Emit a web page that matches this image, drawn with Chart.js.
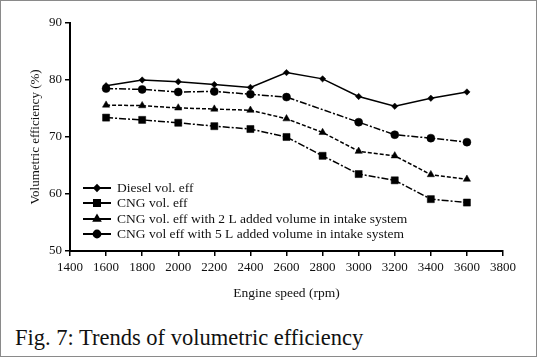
<!DOCTYPE html>
<html><head><meta charset="utf-8">
<script src="https://cdn.jsdelivr.net/npm/chart.js@4.4.1/dist/chart.umd.min.js"></script>
<style>
html,body{margin:0;padding:0;background:#fff;}
#wrap{position:relative;width:537px;height:357px;box-sizing:border-box;border:1px solid #8a8a8a;background:#fff;overflow:hidden;}
#cv{position:absolute;left:0;top:0;}
#cap{position:absolute;left:14px;top:324px;font-family:"Liberation Serif",serif;font-size:22.5px;color:#111;white-space:nowrap;}
</style></head>
<body><div id="wrap"><canvas id="cv" width="535" height="305"></canvas><div id="cap">Fig. 7: Trends of volumetric efficiency</div></div>
<script>
const speeds = [1600,1800,2000,2200,2400,2600,2800,3000,3200,3400,3600];
const dieselVals = [79.0,80.0,79.7,79.2,78.7,81.3,80.2,77.1,75.4,76.8,77.9];
const cngVals = [73.4,73.0,72.5,71.9,71.4,70.0,66.7,63.5,62.4,59.1,58.5];
const cng2LVals = [75.6,75.5,75.1,74.9,74.7,73.2,70.8,67.5,66.7,63.4,62.6];
const cng5LVals = [78.5,78.35,77.9,78.0,77.5,77.0,74.8,72.6,70.4,69.8,69.1];
const labels = ["Diesel vol. eff","CNG vol. eff","CNG vol. eff with 2 L added volume in intake system","CNG vol eff with 5 L added volume in intake system"];
const xTitle = "Engine speed (rpm)";
const yTitle = "Volumetric efficiency (%)";

const serif = '"Liberation Serif", "DejaVu Serif", serif';
const pts = v => speeds.map((s,i)=>({x:s,y:v[i]}));
const mk = (label, data, style, radius, dash) => ({
  label, data: pts(data), borderColor:'#000', backgroundColor:'#000', borderWidth:1.5,
  pointStyle:style, pointRadius:radius, pointBorderWidth:0.5, borderDash:dash, tension:0, fill:false
});
const r5 = speeds.map((s,i)=> i===6 ? 0 : 4);
const datasets = [
  mk(labels[0], dieselVals, 'rectRot', 3.2, []),
  mk(labels[1], cngVals, 'rect', 5, [7,2,2,2]),
  mk(labels[2], cng2LVals, 'triangle', 4.2, [4,2]),
  mk(labels[3], cng5LVals, 'circle', r5, [7,2,2,2])
];
const legendR = [3.2,5,4.2,4];
const legendPlugin = {
  id:'inLegend',
  afterDraw(chart){
    const ctx = chart.ctx;
    ctx.save();
    ctx.font = '13.5px ' + serif;
    ctx.textBaseline = 'middle';
    const x0 = 82, x1 = 110, ys = [187,202,218,233];
    chart.data.datasets.forEach((ds,i)=>{
      const y = ys[i];
      ctx.strokeStyle = '#000'; ctx.lineWidth = 2; ctx.setLineDash([]);
      ctx.beginPath(); ctx.moveTo(x0,y); ctx.lineTo(x1,y); ctx.stroke();
      ctx.fillStyle = '#000';
      Chart.helpers.drawPoint(ctx, {pointStyle:ds.pointStyle, radius:legendR[i]*0.85, rotation:0, borderWidth:0.5}, (x0+x1)/2, y);
      ctx.fillStyle = '#111';
      ctx.fillText(ds.label, 116, y+0.5);
    });
    ctx.restore();
  }
};
new Chart(document.getElementById('cv'), {
  type:'line',
  data:{datasets},
  options:{
    responsive:false, animation:false, devicePixelRatio:1,
    layout:{padding:{top:22,right:33,left:27,bottom:0}},
    plugins:{legend:{display:false}, tooltip:{enabled:false}},
    scales:{
      x:{type:'linear', min:1400, max:3800,
        ticks:{stepSize:200, color:'#111', font:{family:serif,size:13}, padding:4, maxRotation:0, autoSkip:false, callback:v=>String(v)},
        grid:{drawOnChartArea:false, drawTicks:true, tickLength:5, color:'#000', lineWidth:1.5},
        border:{display:true, color:'#000', width:2},
        title:{display:true, text:xTitle, color:'#111', font:{family:serif,size:13.5}, padding:{top:4}},
        afterFit(s){ s.height = 55; }
      },
      y:{min:50, max:90,
        ticks:{stepSize:10, color:'#111', font:{family:serif,size:13}, padding:3, callback:v=>String(v)},
        grid:{drawOnChartArea:false, drawTicks:true, tickLength:5, color:'#000', lineWidth:1.5},
        border:{display:true, color:'#000', width:2},
        title:{display:true, text:yTitle, color:'#111', font:{family:serif,size:13}, padding:{top:0,bottom:2}},
        afterFit(s){ s.width = 42; }
      }
    }
  },
  plugins:[legendPlugin]
});
</script></body></html>
